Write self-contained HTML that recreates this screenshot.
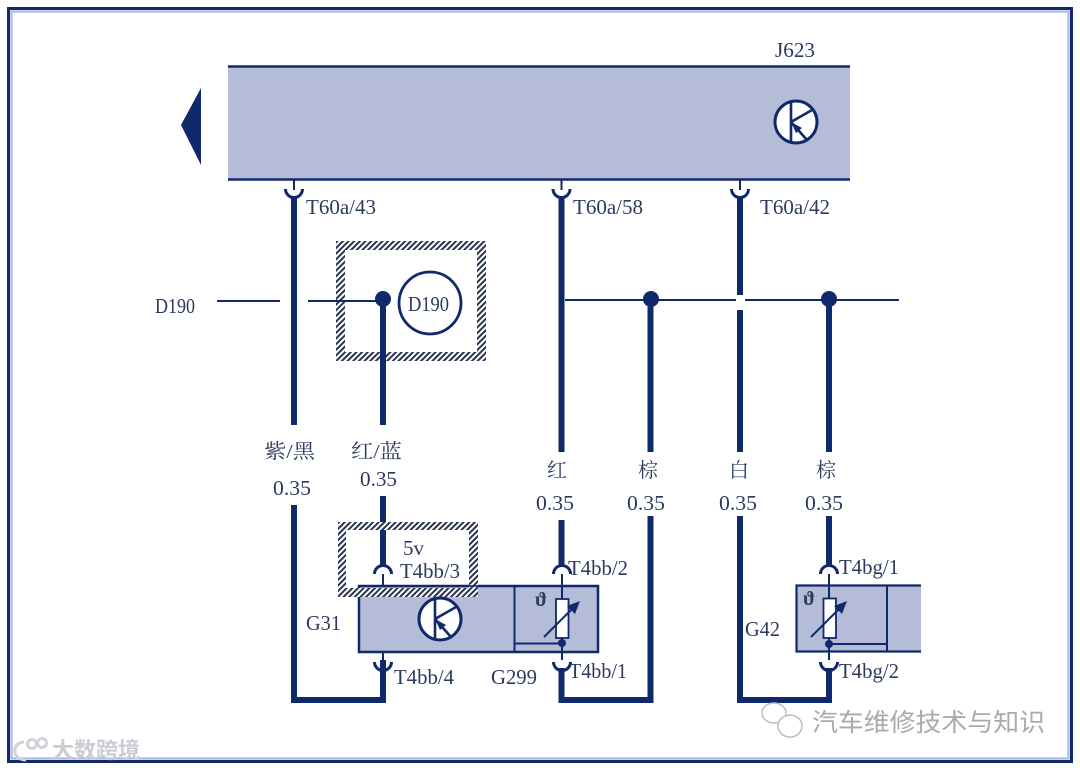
<!DOCTYPE html>
<html><head><meta charset="utf-8"><style>
html,body{margin:0;padding:0;background:#fff}
svg{display:block}
text{font-family:"Liberation Serif","Noto Serif CJK SC",serif;fill:#2b3a5e;font-size:21px}
</style></head><body>
<svg xmlns="http://www.w3.org/2000/svg" width="1080" height="770" viewBox="0 0 1080 770">
<defs>
<pattern id="h" width="4" height="4" patternUnits="userSpaceOnUse" patternTransform="rotate(45)">
<rect width="4" height="4" fill="#fff"/><rect width="2" height="4" fill="#2a3450"/>
</pattern>
<g id="tr">
<circle r="21" fill="#fff" stroke="#10296a" stroke-width="3"/>
<path d="M-5-20V20M-5 0L16-12M-5 0L11 18" fill="none" stroke="#10296a" stroke-width="2.6"/>
<path d="M-5 0L6 6 0 11Z" fill="#10296a"/>
</g>
<g id="up"><path d="M-8.500 8A8.500 8.500 0 0 1 8.500 8" fill="none" stroke="#10296a" stroke-width="3"/></g>
<g id="dn"><path d="M-8.500 0A8.500 8.500 0 0 0 8.500 0" fill="none" stroke="#10296a" stroke-width="3"/></g>
</defs>
<rect width="1080" height="770" fill="#fff"/>
<rect x="8.5" y="8.5" width="1063" height="753" fill="none" stroke="#14296a" stroke-width="3"/>
<rect x="11.5" y="11.5" width="1057" height="747" fill="none" stroke="#a9bbdc" stroke-width="2.2"/>

<!-- J623 -->
<rect x="228" y="66" width="622" height="114" fill="#b5bcd8"/>
<path d="M228 66.500H850M228 179.500H850" stroke="#10296a" stroke-width="2.500"/>
<path d="M201 88L181 125 201 165Z" fill="#10296a"/>
<use href="#tr" x="796" y="122"/>
<text x="775" y="57" textLength="40" lengthAdjust="spacingAndGlyphs">J623</text>

<!-- hatch D190 -->
<path fill-rule="evenodd" fill="url(#h)" d="M336 241H486V361H336ZM345 250V352H477V250Z"/>
<!-- wires -->
<g fill="none" stroke="#10296a" stroke-width="6">
<path d="M294 197V425M294 505V700H386M383 660V703"/>
<path d="M383 299V425M383 496V566"/>
<path d="M561.500 197V452M561.500 520V566M561.500 668V700H653M650.500 299V452M650.500 516V703"/>
<path d="M740 197V295M740 310V452M740 516V700H832M829 299V452M829 516V566M829 668V703"/>
</g>
<g fill="none" stroke="#10296a" stroke-width="2">
<path d="M217 301H280M308 301H383"/>
<path d="M565 300H736M745 300H899"/>
<path d="M294 180V190M561.500 180V190M740 180V190"/>
</g>
<use href="#dn" x="294" y="189"/><use href="#dn" x="561.500" y="189"/><use href="#dn" x="740" y="189"/>
<circle cx="383" cy="299" r="8" fill="#10296a"/>
<circle cx="651" cy="299" r="8" fill="#10296a"/>
<circle cx="829" cy="299" r="8" fill="#10296a"/>
<circle cx="430" cy="303" r="31" fill="#fff" stroke="#10296a" stroke-width="2.800"/>
<text x="408" y="311" textLength="41" lengthAdjust="spacingAndGlyphs">D190</text>

<!-- G31/G299 -->
<rect x="359" y="586" width="239" height="66" fill="#b5bcd8" stroke="#10296a" stroke-width="2.500"/>
<path d="M514.500 586V652" stroke="#10296a" stroke-width="2"/>
<path fill-rule="evenodd" fill="url(#h)" d="M338 522H478V597H338ZM346 530V588H469V530Z"/>
<path d="M358 586H598" stroke="#10296a" stroke-width="1.500"/>
<use href="#tr" x="440" y="619"/>
<path d="M383 574V586M383 652V661M562 574V660M514 643.500H562" fill="none" stroke="#10296a" stroke-width="2"/>
<rect x="556" y="599" width="12.500" height="39" fill="#fff" stroke="#10296a" stroke-width="1.800"/>
<path d="M544 637L574 607" stroke="#10296a" stroke-width="2"/><path d="M580 601L567 606 575 614Z" fill="#10296a"/>
<circle cx="562" cy="643" r="4" fill="#10296a"/>
<use href="#up" x="383" y="566"/><use href="#dn" x="383" y="662"/>
<use href="#up" x="562" y="566"/><use href="#dn" x="562" y="662"/>
<text x="535" y="606" style="font-size:20px;font-weight:bold">ϑ</text>

<!-- G42 -->
<rect x="796" y="585" width="125" height="67" fill="#b5bcd8"/>
<path d="M921 585.500H796.500V651.500H921" fill="none" stroke="#10296a" stroke-width="2.200"/>
<path d="M887 585V652M829 574V660M829 644H887" fill="none" stroke="#10296a" stroke-width="2"/>
<rect x="823.500" y="598.500" width="12.500" height="39.500" fill="#fff" stroke="#10296a" stroke-width="1.800"/>
<path d="M811 637L841 607" stroke="#10296a" stroke-width="2"/><path d="M847 601L834 606 842 614Z" fill="#10296a"/>
<circle cx="829" cy="644" r="4" fill="#10296a"/>
<use href="#up" x="829" y="566"/><use href="#dn" x="829" y="662"/>
<text x="803" y="605" style="font-size:20px;font-weight:bold">ϑ</text>

<!-- labels -->
<g lengthAdjust="spacingAndGlyphs">
<text x="306" y="214" textLength="70" lengthAdjust="spacingAndGlyphs">T60a/43</text>
<text x="573" y="214" textLength="70" lengthAdjust="spacingAndGlyphs">T60a/58</text>
<text x="760" y="214" textLength="70" lengthAdjust="spacingAndGlyphs">T60a/42</text>
<text x="155" y="313" textLength="40" lengthAdjust="spacingAndGlyphs">D190</text>
<text x="264" y="458" style="font-size:20px" textLength="51" lengthAdjust="spacingAndGlyphs">紫/黑</text>
<text x="351" y="458" style="font-size:20px" textLength="51" lengthAdjust="spacingAndGlyphs">红/蓝</text>
<text x="273" y="495" textLength="38" lengthAdjust="spacingAndGlyphs">0.35</text>
<text x="360" y="486" textLength="37" lengthAdjust="spacingAndGlyphs">0.35</text>
<text x="547" y="477" style="font-size:20px">红</text>
<text x="638" y="477" style="font-size:20px">棕</text>
<text x="729" y="477" style="font-size:20px">白</text>
<text x="816" y="477" style="font-size:20px">棕</text>
<text x="536" y="510" textLength="38" lengthAdjust="spacingAndGlyphs">0.35</text>
<text x="627" y="510" textLength="38" lengthAdjust="spacingAndGlyphs">0.35</text>
<text x="719" y="510" textLength="38" lengthAdjust="spacingAndGlyphs">0.35</text>
<text x="805" y="510" textLength="38" lengthAdjust="spacingAndGlyphs">0.35</text>
<text x="403" y="555" textLength="21" lengthAdjust="spacingAndGlyphs">5v</text>
<text x="400" y="578" textLength="60" lengthAdjust="spacingAndGlyphs">T4bb/3</text>
<text x="568" y="575" textLength="60" lengthAdjust="spacingAndGlyphs">T4bb/2</text>
<text x="839" y="574" textLength="60" lengthAdjust="spacingAndGlyphs">T4bg/1</text>
<text x="306" y="630" textLength="35" lengthAdjust="spacingAndGlyphs">G31</text>
<text x="745" y="636" textLength="35" lengthAdjust="spacingAndGlyphs">G42</text>
<text x="394" y="684" textLength="60" lengthAdjust="spacingAndGlyphs">T4bb/4</text>
<text x="491" y="684" textLength="46" lengthAdjust="spacingAndGlyphs">G299</text>
<text x="569" y="678" textLength="58" lengthAdjust="spacingAndGlyphs">T4bb/1</text>
<text x="839" y="678" textLength="60" lengthAdjust="spacingAndGlyphs">T4bg/2</text>
</g>

<!-- watermarks -->
<g fill="#fff" stroke="#bdbdbd" stroke-width="1.500">
<ellipse cx="774" cy="713" rx="12" ry="10"/>
<ellipse cx="790" cy="726" rx="12" ry="11"/>
</g>
<text x="812" y="731" textLength="233" lengthAdjust="spacingAndGlyphs" style="font-family:'Liberation Sans','Noto Sans CJK SC',sans-serif;font-size:25px;fill:#aaa">汽车维修技术与知识</text>
<g fill="none" stroke="#d0d3da" stroke-width="3">
<path d="M24 742C12 742 11 760 26 760"/><circle cx="32" cy="744" r="4.500"/><circle cx="42" cy="743" r="4.500"/>
</g>
<text x="52" y="758" textLength="88" lengthAdjust="spacingAndGlyphs" style="font-family:'Liberation Sans','Noto Sans CJK SC',sans-serif;font-size:22px;font-weight:bold;fill:#c9ccd4">大数跨境</text>
</svg>
</body></html>
